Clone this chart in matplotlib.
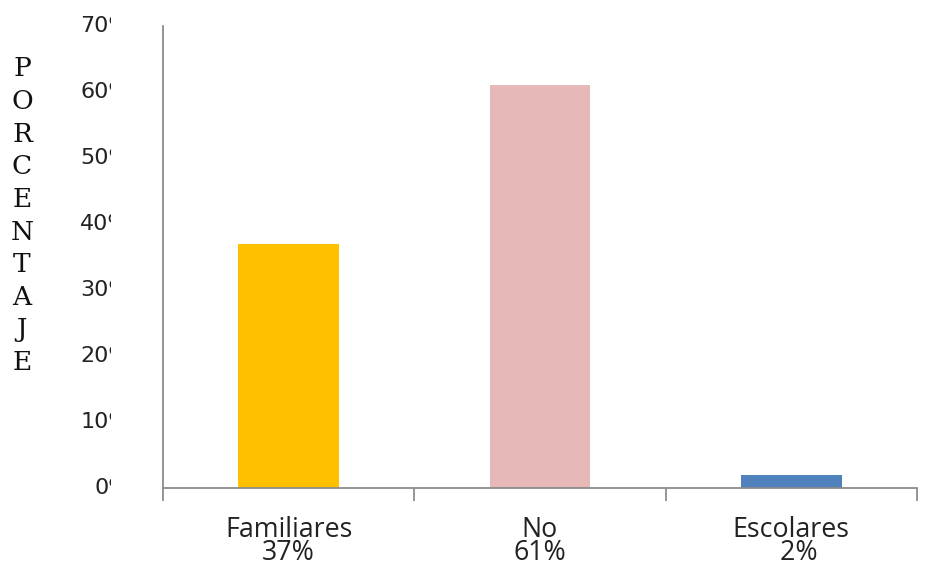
import matplotlib
matplotlib.use("Agg")
import matplotlib.pyplot as plt
from matplotlib.transforms import Bbox, blended_transform_factory

categories = ["Familiares", "No", "Escolares"]
percent_labels = ["37%", "61%", "  2%"]
values = [37, 61, 2]
colors = ["#FFC000", "#E6B9B8", "#4F81BD"]
yticks = [0, 10, 20, 30, 40, 50, 60, 70]
ylabel = "PORCENTAJE"

W, H = 926, 568
fig = plt.figure(figsize=(W / 100, H / 100), dpi=100)
ax = fig.add_axes([163 / W, 1 - 488 / H, (917 - 163) / W, (488 - 26) / H])

x = list(range(len(categories)))
ax.bar(x, values, width=0.4, color=colors, zorder=2)
ax.set_xlim(-0.5, len(categories) - 0.5)
ax.set_ylim(0, 70)

axis_gray = "#8C8C8C"
for side in ("top", "right"):
    ax.spines[side].set_visible(False)
for side in ("left", "bottom"):
    ax.spines[side].set_color(axis_gray)
    ax.spines[side].set_linewidth(1.3)

# y axis: no major tick marks, only a short mark at the top
ax.set_yticks(yticks)
ax.set_yticklabels([])
ax.tick_params(axis="y", which="major", length=0)
ax.set_yticks([yticks[-1]], minor=True)
ax.tick_params(axis="y", which="minor", length=10, width=1.3, color=axis_gray)

# y tick labels, the percent sign is cut off by the label area
trans = blended_transform_factory(ax.transAxes, ax.transData)
clip = Bbox.from_extents(0, 0, 111, H)
x_lab = (130 - 163) / (917 - 163)
for v in yticks:
    t = ax.text(x_lab, v, f"{v}%", ha="right", va="center",
                fontfamily="DejaVu Sans", fontsize=16, color="#222222",
                transform=trans, clip_on=True)
    t.set_clip_box(clip)

# category separators below the baseline, labels centred under each bar
ax.set_xticks([-0.5, 0.5, 1.5, 2.5])
ax.set_xticklabels([])
ax.tick_params(axis="x", which="major", direction="out", length=9,
               color=axis_gray, width=1.3)
ax.set_xticks(x, minor=True)
ax.set_xticklabels([f"{c}\n{p}" for c, p in zip(categories, percent_labels)],
                   minor=True, fontfamily="Open Sans", fontsize=19.3,
                   linespacing=0.75, color="#222222")
ax.tick_params(axis="x", which="minor", length=0, pad=20)

# vertical axis title, one letter per line
top_c, pitch = 69, 32.6
for i, ch in enumerate(ylabel):
    fig.text(22 / W, 1 - (top_c + i * pitch) / H, ch, ha="center", va="center",
             fontfamily="DejaVu Serif", fontsize=19, color="#111111")

fig.savefig("out.png", dpi=100)
